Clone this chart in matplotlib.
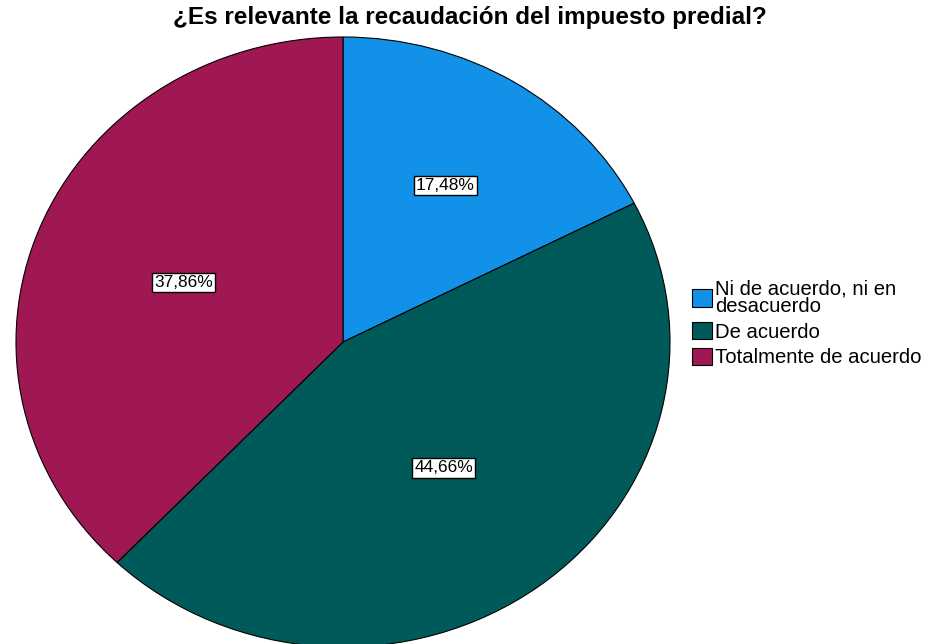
import matplotlib.pyplot as plt
import numpy as np

plt.rcParams['font.family'] = ['Liberation Sans', 'DejaVu Sans']

categorias = ['Ni de acuerdo, ni en\ndesacuerdo', 'De acuerdo', 'Totalmente de acuerdo']
porcentajes = [17.48, 44.66, 37.86]
colores = ['#1192e8', '#005a5a', '#9f1853']
dist_etiqueta = [0.60, 0.515, 0.525]

fig = plt.figure(figsize=(9.31, 6.44), dpi=100)
ax = fig.add_axes([16/931, -3/644, 654/931, 610/644])

wedges, textos, autotextos = ax.pie(
    porcentajes, colors=colores, startangle=90, counterclock=False,
    autopct=lambda p: ('%.2f%%' % p).replace('.', ','), pctdistance=0.55,
    wedgeprops=dict(edgecolor='black', linewidth=0.8), radius=1.0)
for w, t, d in zip(wedges, autotextos, dist_etiqueta):
    ang = np.deg2rad((w.theta1 + w.theta2) / 2)
    t.set_position((d * np.cos(ang), d * np.sin(ang)))
    t.set_fontsize(12.5)
    t.set_color('black')
    t.set_bbox(dict(boxstyle='square,pad=0.12', facecolor='white', edgecolor='black', linewidth=1))
ax.set_aspect('auto')
ax.set_xlim(-1, 1)
ax.set_ylim(-1, 1)

fig.suptitle('¿Es relevante la recaudación del impuesto predial?', x=470/931, y=0.99,
             fontsize=17.5, fontweight='bold', va='top')

leg = fig.legend(wedges, categorias, loc='upper left', bbox_to_anchor=(0.735, 0.579),
                 frameon=False, fontsize=14.6, handlelength=0.95, handleheight=0.95,
                 handletextpad=0.15, labelspacing=0.3, borderaxespad=0)
for t in leg.get_texts():
    t.set_linespacing(0.9)

plt.savefig('out.png', dpi=100)
